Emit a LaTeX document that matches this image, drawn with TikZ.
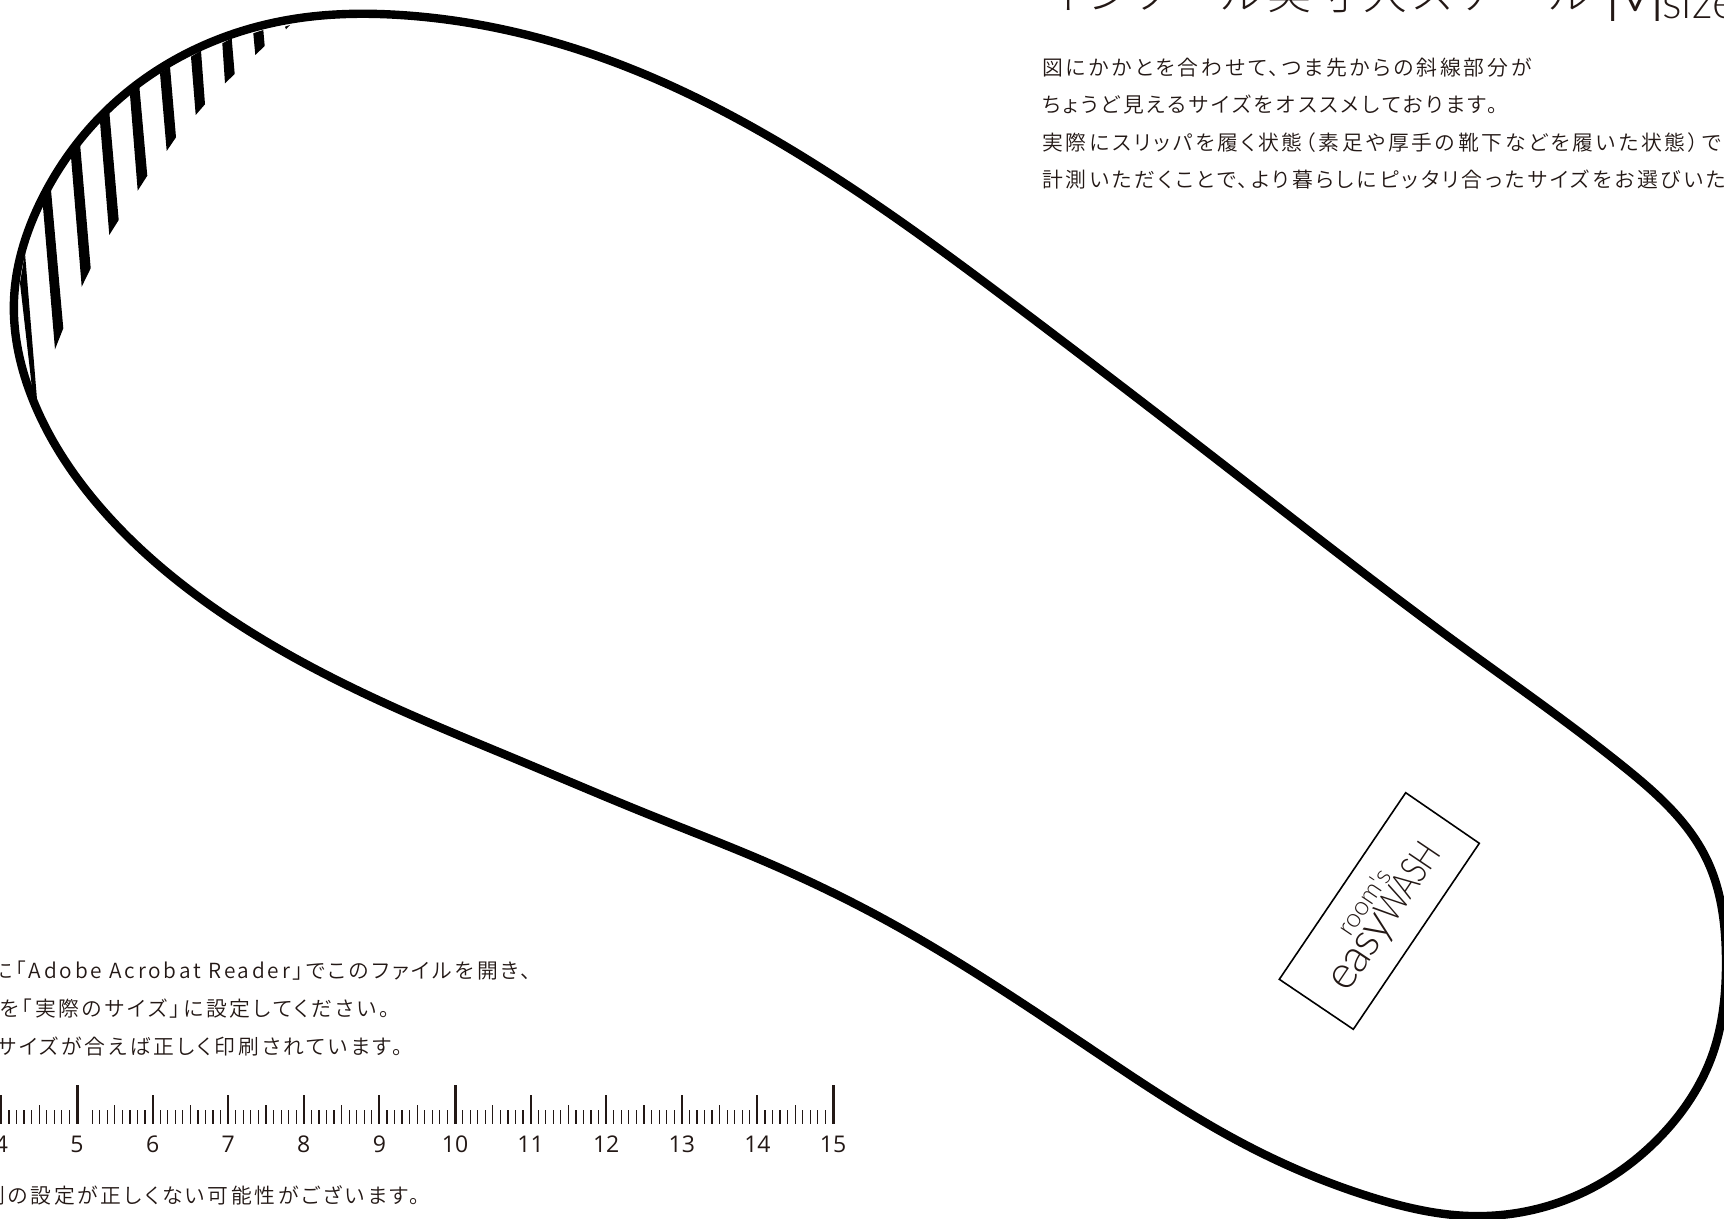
\documentclass[tikz,border=0pt]{standalone}
\usepackage{fontspec}
\usepackage{graphicx}
\usetikzlibrary{hobby}
\setmainfont{Noto Sans CJK JP}
\newfontfamily\jpfont[RawFeature={+palt},LetterSpace=13.5]{Noto Sans CJK JP DemiLight}
\newfontfamily\headfont[RawFeature={+palt},LetterSpace=10]{Noto Sans CJK JP Light}
\newfontfamily\numfont{Open Sans}
\newfontfamily\logofont{Lato}
\newfontfamily\logolight{Lato Light}
\definecolor{ink}{HTML}{231815}
\tikzset{
  outline/.style={draw=black,line width=4.2pt,line join=round},
  jptext/.style={font=\fontsize{10.4}{12}\jpfont,text=ink,inner sep=0pt,anchor=base west},
  jpright/.style={font=\fontsize{10.4}{12}\jpfont,text=ink,inner sep=0pt,anchor=base east},
  ruler/.style={font=\fontsize{11.5}{13}\numfont,text=ink,inner sep=0pt,anchor=base},
  hatch/.style={fill=black,draw=none}
}
\begin{document}
\begin{tikzpicture}[x=0.5pt,y=-0.5pt,use Hobby shortcut]
\useasboundingbox (0,0) rectangle (1724,1219);
\fill[white] (0,0) rectangle (1724,1219);
% insole
\draw[outline,closed=true] (400,15)..(600,57)..(800,155)..(1020,309)..(1220,462)..(1457,643)..(1624,767)..(1707,860)..(1726,960)..(1713,1053)..(1660,1137)..(1560,1202)..(1470,1216)..(1374,1198)..(1242,1143)..(1100,1055)..(880,917)..(759,859)..(650,815)..(518,760)..(400,710)..(217,610)..(100,507)..(33,400)..(14,300)..(43,197)..(100,117)..(200,47)..(300,18);
% hatching
\fill[hatch] (25,253)--(37.3,403)--(33,397)--(20,283)--cycle;
\fill[hatch] (42.7,203.3)--(50.7,186.7)--(63.3,328.3)--(55,349.3)--cycle;
\fill[hatch] (71,156.7)--(80,143.3)--(90.7,268.3)--(81.7,286.7)--cycle;
\fill[hatch] (100,121.7)--(109.3,111.7)--(118.7,220)--(109.3,235)--cycle;
\fill[hatch] (130,95)--(139.3,86)--(147.3,175.7)--(137.7,190.7)--cycle;
\fill[hatch] (160,73.3)--(170,66.7)--(176,137.3)--(166.7,151)--cycle;
\fill[hatch] (191,56.7)--(201,50.7)--(205,104.3)--(195.7,115)--cycle;
\fill[hatch] (222.3,43.3)--(231.7,38.3)--(234.7,74)--(225,83.3)--cycle;
\fill[hatch] (253.3,33.3)--(263.3,30)--(264.7,46)--(255.3,55)--cycle;
\fill[hatch] (285,26.7)--(290,25)--(286,29.3)--cycle;
% heading
\node[font=\fontsize{22}{24}\headfont,text=ink,inner sep=0pt,anchor=base west] (head) at (1046,10) {インソール実寸大スケール};
\node[font=\fontsize{40}{42}\logolight,text=ink,inner sep=0pt,anchor=base west,xscale=0.85] (msize) at (1604,22) {M};
\node[font=\fontsize{23}{25}\logolight,text=ink,inner sep=0pt,anchor=base west] (sizew) at (1662,19) {size};
% right text
\node[jptext] (t1) at (1042,76) {図にかかとを合わせて、つま先からの斜線部分が};
\node[jptext] (t2) at (1042,113) {ちょうど見えるサイズをオススメしております。};
\node[jptext] (t3) at (1042,151) {実際にスリッパを履く状態（素足や厚手の靴下などを履いた状態）で};
\node[jptext] (t4) at (1042,188) {計測いただくことで、より暮らしにピッタリ合ったサイズをお選びいた};
% left text
\node[jpright] (b1) at (531,978) {に「Adobe Acrobat Reader」でこのファイルを開き、};
\node[jpright] (b2) at (390,1016) {を「実際のサイズ」に設定してください。};
\node[jpright] (b3) at (403,1054) {サイズが合えば正しく印刷されています。};
\node[jpright] (b4) at (420,1203) {刷の設定が正しくない可能性がございます。};
% ruler
\foreach \n in {4,...,15}{
  \node[ruler] (n\n) at ({77+75.6*(\n-5)},1152) {\n};
  \pgfmathsetmacro{\xx}{77+75.6*(\n-5)}
  \ifnum\n=5 \draw[line width=1.5pt,ink] (\xx,1085)--(\xx,1124);
  \else\ifnum\n=10 \draw[line width=1.5pt,ink] (\xx,1085)--(\xx,1124);
  \else\ifnum\n=15 \draw[line width=1.5pt,ink] (\xx,1085)--(\xx,1124);
  \else \draw[line width=1pt,ink] (\xx,1095)--(\xx,1124);\fi\fi\fi
  \ifnum\n<15
   \foreach \k in {1,...,9}{
     \pgfmathsetmacro{\yy}{\k==5?1105:1110}
     \pgfmathsetmacro{\xy}{\xx+7.56*\k}
     \ifnum\n=5 \ifnum\k=1 \else \draw[line width=0.6pt,ink] (\xy,\yy)--(\xy,1124);\fi
     \else \draw[line width=0.6pt,ink] (\xy,\yy)--(\xy,1124);\fi
   }
  \fi
}
% logo
\draw[black,line width=0.8pt] (1405.7,792.7)--(1479.3,843.3)--(1353.3,1029.3)--(1279.3,979.3)--cycle;
\node[font=\fontsize{13}{14}\logolight,text=ink,rotate=56,inner sep=0pt] (room) at (1364,902) {room's};
\node[text=ink,rotate=56,inner sep=0pt] (easy) at (1387,918) {\fontsize{23}{24}\logolight\addfontfeature{LetterSpace=-4}easy\fontsize{19}{24}\logolight\addfontfeature{LetterSpace=-3}\scalebox{0.8}[1]{WASH}};
\end{tikzpicture}
\end{document}
